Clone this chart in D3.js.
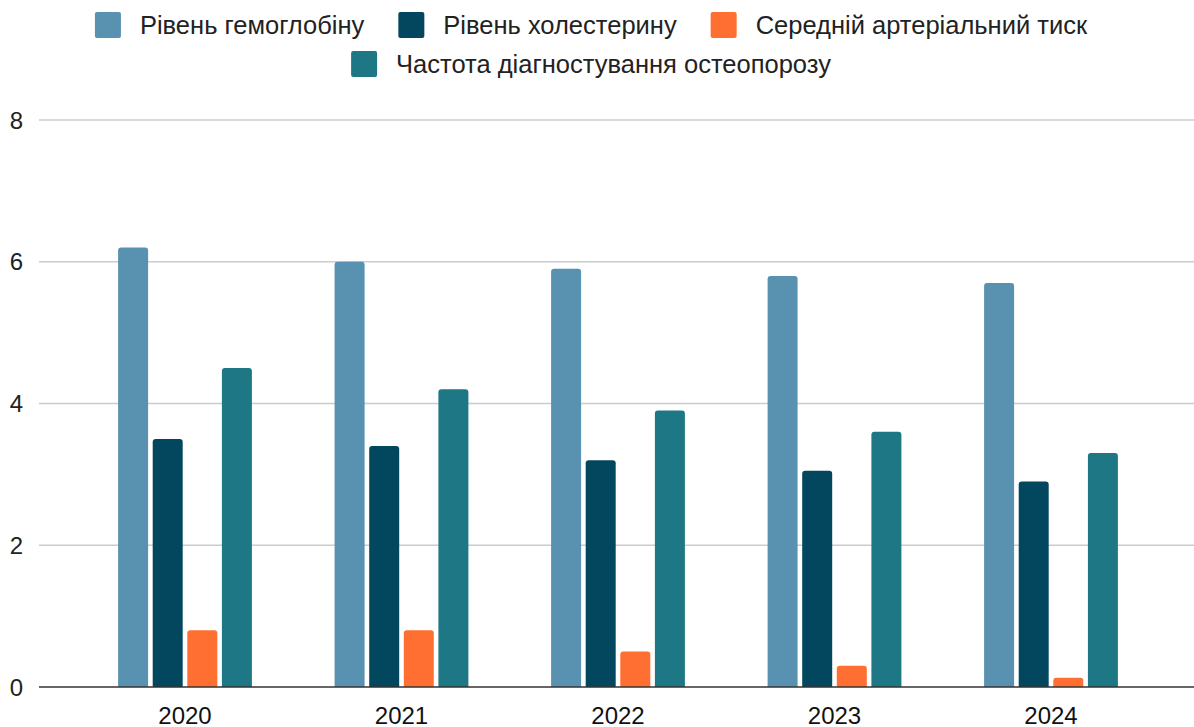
<!DOCTYPE html>
<html>
<head>
<meta charset="utf-8">
<script src="https://cdn.jsdelivr.net/npm/d3@7"></script>
<style>
  html, body { margin: 0; padding: 0; background: #fff; }
  svg { display: block; font-family: "Liberation Sans", Arial, sans-serif; }
</style>
</head>
<body>
<svg id="chart" width="1194" height="727"></svg>
<script>
const years = ["2020", "2021", "2022", "2023", "2024"];
const seriesNames = ["Рівень гемоглобіну", "Рівень холестерину", "Середній артеріальний тиск", "Частота діагностування остеопорозу"];
const hemoglobin = [6.2, 6.0, 5.9, 5.8, 5.7];
const cholesterol = [3.5, 3.4, 3.2, 3.05, 2.9];
const pressure = [0.8, 0.8, 0.5, 0.3, 0.13];
const osteoporosis = [4.5, 4.2, 3.9, 3.6, 3.3];
const yTicks = [0, 2, 4, 6, 8];
const colors = ["#5991b0", "#03475f", "#ff6f31", "#1e7785"];

const seriesValues = [hemoglobin, cholesterol, pressure, osteoporosis];
const svg = d3.select("#chart");

const y = d3.scaleLinear().domain([0, 8]).range([687, 120]);
const x0 = d3.scaleBand().domain(years).range([76.75, 1159.25]);
const x1 = d3.scaleBand().domain(d3.range(seriesNames.length)).range([-66.9, 66.9]).paddingInner(0.133);

// gridlines
svg.append("g").selectAll("line").data(yTicks.filter(d => d !== 0)).join("line")
  .attr("x1", 39).attr("x2", 1194)
  .attr("y1", d => y(d)).attr("y2", d => y(d))
  .attr("stroke", "#cccccc").attr("stroke-width", 1.5);

// y labels
svg.append("g").selectAll("text").data(yTicks).join("text")
  .attr("x", 23).attr("y", d => y(d)).attr("dy", "0.36em")
  .attr("text-anchor", "end").attr("font-size", 24).attr("fill", "#222")
  .text(d => d);

// bars
function topRounded(x, yTop, w, h, r) {
  r = Math.min(r, h, w / 2);
  return `M${x},${yTop + h}V${yTop + r}Q${x},${yTop} ${x + r},${yTop}H${x + w - r}Q${x + w},${yTop} ${x + w},${yTop + r}V${yTop + h}Z`;
}
const data = [];
years.forEach((yr, i) => seriesValues.forEach((arr, s) => data.push({ yr, s, v: arr[i] })));
svg.append("g").selectAll("path").data(data).join("path")
  .attr("d", d => {
    const bx = x0(d.yr) + x0.bandwidth() / 2 + x1(d.s);
    const yt = y(d.v);
    return topRounded(bx, yt, x1.bandwidth(), y(0) - yt, 3);
  })
  .attr("fill", d => colors[d.s]);

// x axis line
svg.append("line").attr("x1", 39).attr("x2", 1194).attr("y1", y(0)).attr("y2", y(0))
  .attr("stroke", "#333").attr("stroke-width", 1.5);

// x labels
svg.append("g").selectAll("text").data(years).join("text")
  .attr("x", d => x0(d) + x0.bandwidth() / 2).attr("y", 724)
  .attr("text-anchor", "middle").attr("font-size", 24).attr("fill", "#111")
  .text(d => d);

// legend
const rows = [[0, 1, 2], [3]];
const rowY = [25, 64];
const centerX = 591;
rows.forEach((row, ri) => {
  const g = svg.append("g");
  let cx = 0;
  row.forEach((s, k) => {
    const item = g.append("g").attr("transform", `translate(${cx},0)`);
    item.append("rect").attr("x", 0).attr("y", rowY[ri] - 13).attr("width", 26).attr("height", 26)
      .attr("rx", 2).attr("fill", colors[s]);
    const t = item.append("text").attr("x", 45).attr("y", rowY[ri]).attr("dy", "0.36em")
      .attr("font-size", 25.5).attr("fill", "#222").text(seriesNames[s]);
    const w = t.node().getComputedTextLength();
    cx += 45 + w + (k < row.length - 1 ? 34 : 0);
  });
  g.attr("transform", `translate(${centerX - cx / 2},0)`);
});
</script>
</body>
</html>
